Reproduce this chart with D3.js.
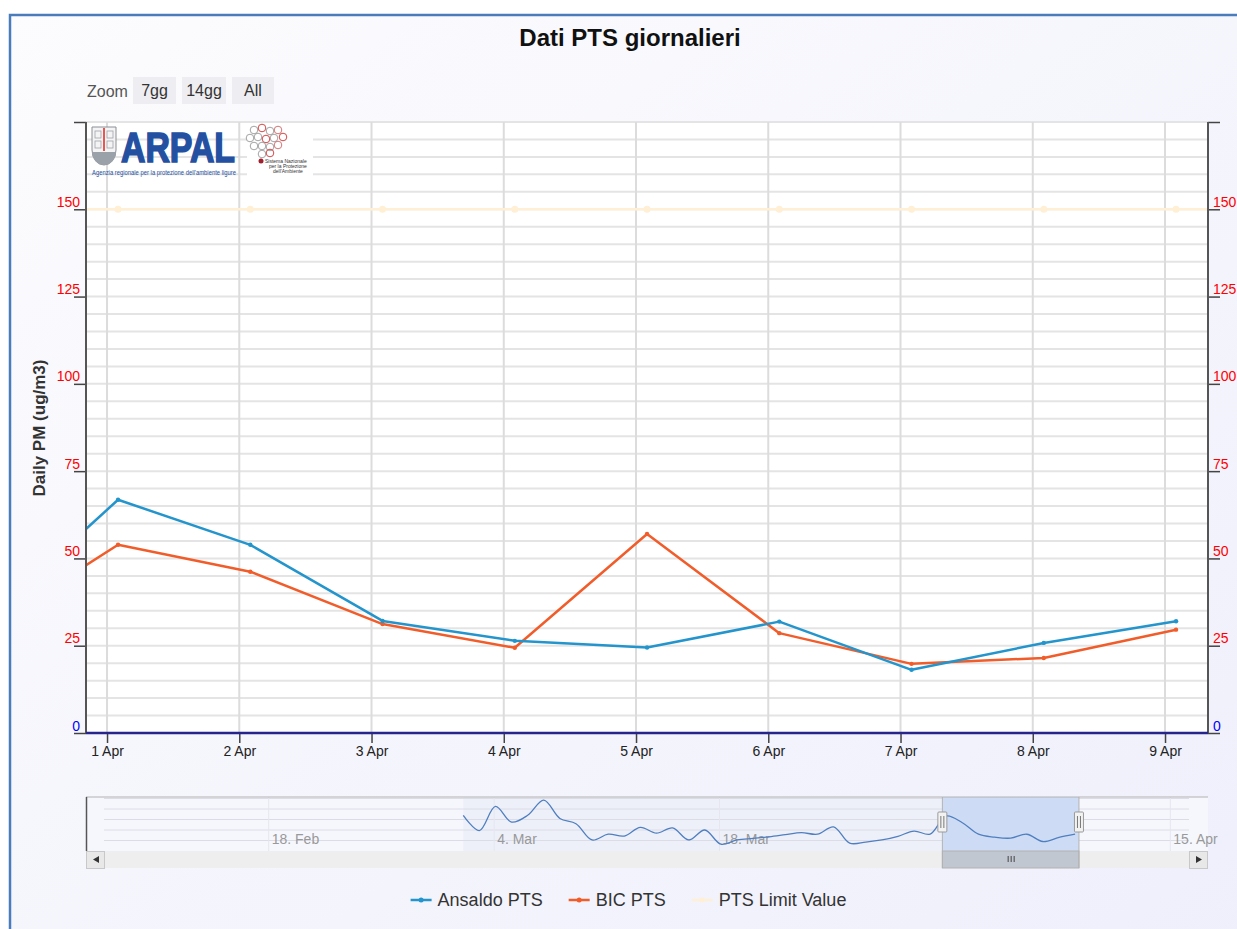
<!DOCTYPE html>
<meta charset="utf-8">
<head>
    <title>Dati PTS giornalieri</title>
</head>
<style>
    body { margin: 0; background: #fff; }
    svg { display: block; font-family: "Liberation Sans", Arial, sans-serif; }
</style>
<body>
<svg id="chart" width="1237" height="929"></svg>
<script src="https://cdnjs.cloudflare.com/ajax/libs/d3/7.8.5/d3.min.js"></script>
<script>

    // Data (daily values)
    var days = ["2021-03-31", "2021-04-01", "2021-04-02", "2021-04-03", "2021-04-04",
                "2021-04-05", "2021-04-06", "2021-04-07", "2021-04-08", "2021-04-09"];
    var ansaldo = [32.3, 66.8, 53.9, 32.1, 26.4, 24.5, 31.9, 18.1, 25.8, 32.0];
    var bic     = [29.8, 53.9, 46.2, 31.2, 24.4, 57.0, 28.6, 19.8, 21.5, 29.6];
    var limitDays = days.concat(["2021-04-10"]);
    var limitValue = [150, 150, 150, 150, 150, 150, 150, 150, 150, 150, 150];

    // Navigator history for Ansaldo, 2 Mar .. 30 Mar (then the days above)
    var navStartDay = "2021-03-02";
    var navHistory = [68, 39, 85, 55, 68, 97, 62, 52, 21, 32, 28.5, 45, 34, 44, 21,
                      40, 13, 21, 24, 27, 31, 35, 32, 46, 15, 17, 21, 28, 38];
    var navTickDays = ["2021-02-18", "2021-03-04", "2021-03-18", "2021-04-01", "2021-04-15"];

    var yTicks = [0, 25, 50, 75, 100, 125, 150, 175];
    var series = [
        { name: "Ansaldo PTS", color: "#2395cc", values: ansaldo, r: 2.2 },
        { name: "BIC PTS", color: "#f15d2a", values: bic, r: 2.2 },
        { name: "PTS Limit Value", color: "#ffefd5", values: limitValue, r: 3.5 }
    ];

    // Configuration
    var width = 1237, height = 929;
    var plot = { left: 86, right: 1208, top: 122, bottom: 733 };
    var nav = { top: 797, bottom: 851, scrollBottom: 868 };
    var viewStart = new Date(Date.UTC(2021, 2, 31, 20, 11));
    var viewEnd = new Date(Date.UTC(2021, 3, 9, 7, 48));
    var navStart = new Date(Date.UTC(2021, 1, 6, 15, 36));
    var navEnd = new Date(Date.UTC(2021, 3, 17, 8, 10));

    var parseDay = d3.utcParse("%Y-%m-%d");
    // points are stamped at 02:00 (local time of the station)
    var stamp = s => d3.utcHour.offset(parseDay(s), 2);

    var svg = d3.select("#chart");
    var defs = svg.append("defs");

    var grad = defs.append("linearGradient").attr("id", "bg")
        .attr("x1", 0).attr("y1", 0).attr("x2", 1).attr("y2", 1);
    grad.append("stop").attr("offset", "0%").attr("stop-color", "#fcfcfe");
    grad.append("stop").attr("offset", "100%").attr("stop-color", "#eeeffb");

    defs.append("clipPath").attr("id", "plotClip").append("rect")
        .attr("x", plot.left).attr("y", plot.top)
        .attr("width", plot.right - plot.left).attr("height", plot.bottom - plot.top);

    // Chart frame
    svg.append("rect")
        .attr("x", 10).attr("y", 15).attr("width", 1260).attr("height", 940)
        .attr("fill", "url(#bg)").attr("stroke", "#4a7cbc").attr("stroke-width", 2.5);

    // Title
    svg.append("text")
        .attr("x", 630).attr("y", 46)
        .attr("text-anchor", "middle")
        .attr("font-size", 24).attr("font-weight", "bold").attr("fill", "#111")
        .text("Dati PTS giornalieri");

    // Zoom buttons
    svg.append("text").attr("x", 87).attr("y", 97)
        .attr("font-size", 16).attr("fill", "#555").text("Zoom");
    var buttons = [["7gg", 133, 43], ["14gg", 182, 44], ["All", 232, 42]];
    buttons.forEach(([label, bx, bw]) => {
        svg.append("rect").attr("x", bx).attr("y", 77).attr("width", bw).attr("height", 27)
            .attr("fill", "#eeeef2");
        svg.append("text").attr("x", bx + bw / 2).attr("y", 96)
            .attr("text-anchor", "middle").attr("font-size", 16).attr("fill", "#333").text(label);
    });

    // Scales
    var x = d3.scaleUtc().domain([viewStart, viewEnd]).range([plot.left, plot.right]);
    var y = d3.scaleLinear().domain([0, 175]).range([plot.bottom, plot.top]);

    // Plot background + grid
    svg.append("rect")
        .attr("x", plot.left).attr("y", plot.top)
        .attr("width", plot.right - plot.left).attr("height", plot.bottom - plot.top)
        .attr("fill", "#fff");

    var dayTicks = d3.utcDay.range(parseDay("2021-04-01"), parseDay("2021-04-10"));

    svg.append("g").selectAll("line")
        .data(d3.range(0, 176, 5))
        .join("line")
        .attr("x1", plot.left).attr("x2", plot.right)
        .attr("y1", d => y(d)).attr("y2", d => y(d))
        .attr("stroke", "#e4e4e4").attr("stroke-width", 2);

    svg.append("g").selectAll("line")
        .data(dayTicks)
        .join("line")
        .attr("x1", d => x(d)).attr("x2", d => x(d))
        .attr("y1", plot.top).attr("y2", plot.bottom)
        .attr("stroke", "#dcdcdc").attr("stroke-width", 2);

    // Logos (decoration)
    var logo = svg.append("g");
    var shield = logo.append("g");
    shield.append("path")
        .attr("d", "M92,127 h24 v23 a12,15 0 0 1 -24,0 z")
        .attr("fill", "#f4f4f4").attr("stroke", "#8a8f96").attr("stroke-width", 1);
    shield.append("path")
        .attr("d", "M92,152 h24 a12,13 0 0 1 -24,0 z").attr("fill", "#9ba1a8");
    shield.append("line").attr("x1", 104).attr("x2", 104).attr("y1", 128).attr("y2", 151)
        .attr("stroke", "#e32020").attr("stroke-width", 1.5);
    [[95, 131], [107, 131], [95, 141], [107, 141]].forEach(([sx, sy]) => {
        shield.append("rect").attr("x", sx).attr("y", sy).attr("width", 6).attr("height", 7)
            .attr("fill", "none").attr("stroke", "#a0a4aa").attr("stroke-width", 0.8);
    });
    logo.append("text").attr("x", 121).attr("y", 162)
        .attr("font-size", 42).attr("font-weight", "bold").attr("fill", "#2450a2")
        .attr("stroke", "#2450a2").attr("stroke-width", 1.6)
        .attr("textLength", 114).attr("lengthAdjust", "spacingAndGlyphs").text("ARPAL");
    logo.append("text").attr("x", 92).attr("y", 175)
        .attr("font-size", 6.5).attr("fill", "#2450a2")
        .attr("textLength", 144).attr("lengthAdjust", "spacingAndGlyphs")
        .text("Agenzia regionale per la protezione dell'ambiente ligure");

    var snpa = logo.append("g");
    snpa.append("rect").attr("x", 247).attr("y", 123).attr("width", 66).attr("height", 54).attr("fill", "#fff");
    [[254, 130, "#999"], [262, 128, "#c33"], [270, 131, "#999"], [278, 130, "#c66"],
     [250, 138, "#999"], [258, 137, "#999"], [266, 139, "#c33"], [274, 138, "#999"], [283, 137, "#c33"],
     [254, 146, "#999"], [262, 146, "#999"], [270, 147, "#999"], [278, 145, "#c66"],
     [262, 154, "#999"], [270, 153, "#c33"]].forEach(([cx, cy, c]) => {
        snpa.append("circle").attr("cx", cx).attr("cy", cy).attr("r", 3.8)
            .attr("fill", "none").attr("stroke", c).attr("stroke-width", 0.9);
    });
    snpa.append("circle").attr("cx", 261).attr("cy", 161).attr("r", 2.5).attr("fill", "#a02030");
    ["Sistema Nazionale", "per la Protezione", "dell'Ambiente"].forEach((t, i) => {
        snpa.append("text").attr("x", 265 + i * 4).attr("y", 163 + i * 5)
            .attr("font-size", 5).attr("fill", "#333").text(t);
    });

    // Series lines
    var line = d3.line().x(d => x(d.date)).y(d => y(d.value));
    var lines = svg.append("g").attr("clip-path", "url(#plotClip)");

    series.slice().reverse().forEach(s => {
        var dates = s.values.length === limitDays.length ? limitDays : days;
        var pts = s.values.map((v, i) => ({ date: stamp(dates[i]), value: v }));
        lines.append("path")
            .attr("d", line(pts))
            .attr("fill", "none")
            .attr("stroke", s.color)
            .attr("stroke-width", 2.5)
            .attr("stroke-linejoin", "round");
        lines.append("g").selectAll("circle")
            .data(pts)
            .join("circle")
            .attr("cx", d => x(d.date)).attr("cy", d => y(d.value))
            .attr("r", s.r).attr("fill", s.color);
    });

    // Y axes
    var labelColor = d => d === 0 ? "#0000ff" : "#ff0000";
    var yFmt = d => d === 175 ? "" : d;

    var yLeft = svg.append("g")
        .attr("transform", `translate(${plot.left},0)`)
        .call(d3.axisLeft(y).tickValues(yTicks).tickSize(12).tickFormat(yFmt));
    yLeft.select(".domain").remove();
    yLeft.selectAll(".tick line").attr("stroke", "#444").attr("stroke-width", 1.5);
    yLeft.selectAll(".tick text")
        .attr("x", -6).attr("y", -3).attr("dy", 0)
        .attr("font-size", 14).attr("font-family", null)
        .attr("fill", labelColor);

    var yRight = svg.append("g")
        .attr("transform", `translate(${plot.right},0)`)
        .call(d3.axisRight(y).tickValues(yTicks).tickSize(12).tickFormat(yFmt));
    yRight.select(".domain").remove();
    yRight.selectAll(".tick line").attr("stroke", "#444").attr("stroke-width", 1.5);
    yRight.selectAll(".tick text")
        .attr("x", 5).attr("y", -3).attr("dy", 0)
        .attr("font-size", 14).attr("font-family", null)
        .attr("fill", labelColor);

    [plot.left, plot.right].forEach(ax => {
        svg.append("line").attr("x1", ax).attr("x2", ax)
            .attr("y1", plot.top).attr("y2", plot.bottom)
            .attr("stroke", "#555").attr("stroke-width", 2);
    });

    // X axis
    var xAxis = svg.append("g")
        .attr("transform", `translate(0,${plot.bottom})`)
        .call(d3.axisBottom(x).tickValues(dayTicks).tickSize(10).tickFormat(d3.utcFormat("%-d %b")));
    xAxis.select(".domain").remove();
    xAxis.selectAll(".tick line").attr("stroke", "#444").attr("stroke-width", 1.5);
    xAxis.selectAll(".tick text").attr("font-size", 14).attr("font-family", null).attr("fill", "#222");
    svg.append("line")
        .attr("x1", plot.left).attr("x2", plot.right)
        .attr("y1", plot.bottom).attr("y2", plot.bottom)
        .attr("stroke", "#25258c").attr("stroke-width", 2.5);

    // Y axis title
    svg.append("text")
        .attr("transform", "translate(45,428) rotate(-90)")
        .attr("text-anchor", "middle")
        .attr("font-size", 17).attr("font-weight", "bold").attr("fill", "#333")
        .text("Daily PM (ug/m3)");

    // Navigator
    var nx = d3.scaleUtc().domain([navStart, navEnd]).range([plot.left, plot.right]);
    var ny = d3.scaleLinear().domain([0, 100]).range([nav.bottom, nav.top + 1.5]);
    var navG = svg.append("g");

    var navDates = navHistory.map((v, i) => d3.utcDay.offset(stamp(navStartDay), i))
        .concat(days.map(stamp));
    var navValues = navHistory.concat(ansaldo);
    var navPts = navValues.map((v, i) => ({ date: navDates[i], value: v }));

    navG.append("rect")
        .attr("x", plot.left).attr("y", nav.top)
        .attr("width", plot.right - plot.left).attr("height", nav.bottom - nav.top)
        .attr("fill", "#f6f7fd");
    navG.append("rect")
        .attr("x", nx(navPts[0].date)).attr("y", nav.top)
        .attr("width", nx(viewStart) - nx(navPts[0].date))
        .attr("height", nav.bottom - nav.top)
        .attr("fill", "#6685c2").attr("fill-opacity", 0.06);

    navG.append("g").selectAll("line")
        .data([20, 40, 60, 80, 100])
        .join("line")
        .attr("x1", 104).attr("x2", 1189)
        .attr("y1", d => ny(d)).attr("y2", d => ny(d))
        .attr("stroke", "#dcdce6").attr("stroke-width", 1);

    var navTicks = navTickDays.map(parseDay);
    navG.append("g").selectAll("line")
        .data(navTicks)
        .join("line")
        .attr("x1", d => nx(d)).attr("x2", d => nx(d))
        .attr("y1", nav.top).attr("y2", nav.bottom)
        .attr("stroke", "#e6e6ee").attr("stroke-width", 1);

    navG.append("g").selectAll("text")
        .data(navTicks)
        .join("text")
        .attr("x", d => nx(d) + 3).attr("y", 844)
        .attr("font-size", 14).attr("fill", "#999")
        .text(d3.utcFormat("%-d. %b"));

    var sx0 = nx(viewStart), sx1 = nx(viewEnd);

    // selected range
    navG.append("rect")
        .attr("x", sx0).attr("y", nav.top)
        .attr("width", sx1 - sx0).attr("height", nav.bottom - nav.top)
        .attr("fill", "#cddcf4");

    navG.append("path")
        .attr("d", d3.line().curve(d3.curveCatmullRom).x(d => nx(d.date)).y(d => ny(d.value))(navPts))
        .attr("fill", "none").attr("stroke", "#4f7fc0").attr("stroke-width", 1.3);

    // scrollbar
    navG.append("rect")
        .attr("x", plot.left).attr("y", nav.bottom)
        .attr("width", plot.right - plot.left).attr("height", nav.scrollBottom - nav.bottom)
        .attr("fill", "#eeeeee");
    navG.append("rect")
        .attr("x", sx0).attr("y", nav.bottom)
        .attr("width", sx1 - sx0).attr("height", nav.scrollBottom - nav.bottom)
        .attr("fill", "#c0c7d0").attr("stroke", "#b2b2b2");
    var mid = (sx0 + sx1) / 2;
    [-3, 0, 3].forEach(o => {
        navG.append("line").attr("x1", mid + o + 0.5).attr("x2", mid + o + 0.5)
            .attr("y1", 856).attr("y2", 862).attr("stroke", "#444");
    });
    [[plot.left, "M99,856 L93,859.5 L99,863 Z"], [plot.right - 19, "M1196,856 L1202,859.5 L1196,863 Z"]]
        .forEach(([bx, arrow]) => {
            navG.append("rect").attr("x", bx + 0.5).attr("y", nav.bottom + 0.5)
                .attr("width", 18).attr("height", 17)
                .attr("fill", "#e8e8e8").attr("stroke", "#c8c8c8");
            navG.append("path").attr("d", arrow).attr("fill", "#333");
        });

    // outline
    navG.append("line").attr("x1", plot.left).attr("x2", plot.right)
        .attr("y1", nav.top).attr("y2", nav.top).attr("stroke", "#b2b2b2");
    navG.append("line").attr("x1", plot.left + 0.5).attr("x2", plot.left + 0.5)
        .attr("y1", nav.top).attr("y2", nav.bottom).attr("stroke", "#555").attr("stroke-width", 1.5);
    [sx0, sx1].forEach(hx => {
        navG.append("line").attr("x1", hx).attr("x2", hx)
            .attr("y1", nav.top).attr("y2", nav.scrollBottom).attr("stroke", "#b2b2b2");
    });

    // handles
    [sx0, sx1].forEach(hx => {
        navG.append("rect").attr("x", hx - 4.5).attr("y", 812).attr("width", 9).attr("height", 20)
            .attr("fill", "#f2f2f2").attr("stroke", "#999").attr("rx", 1);
        [-1.5, 1.5].forEach(o => {
            navG.append("line").attr("x1", hx + o).attr("x2", hx + o)
                .attr("y1", 816).attr("y2", 828).attr("stroke", "#777");
        });
    });

    // Legend
    var legend = svg.append("g");
    var items = series.map(s => {
        var g = legend.append("g");
        g.append("line").attr("x1", 0).attr("x2", 21).attr("y1", 0).attr("y2", 0)
            .attr("stroke", s.color).attr("stroke-width", 2.5);
        g.append("circle").attr("cx", 10.5).attr("cy", 0).attr("r", 2.5).attr("fill", s.color);
        var t = g.append("text").attr("x", 27).attr("y", 6)
            .attr("font-size", 18).attr("fill", "#333").text(s.name);
        return { g: g, w: 27 + t.node().getComputedTextLength() };
    });
    var gap = 26;
    var total = d3.sum(items, d => d.w) + gap * (items.length - 1);
    var lx = 628.5 - total / 2;
    items.forEach(it => {
        it.g.attr("transform", `translate(${lx},900)`);
        lx += it.w + gap;
    });

</script>
</body>
</html>
